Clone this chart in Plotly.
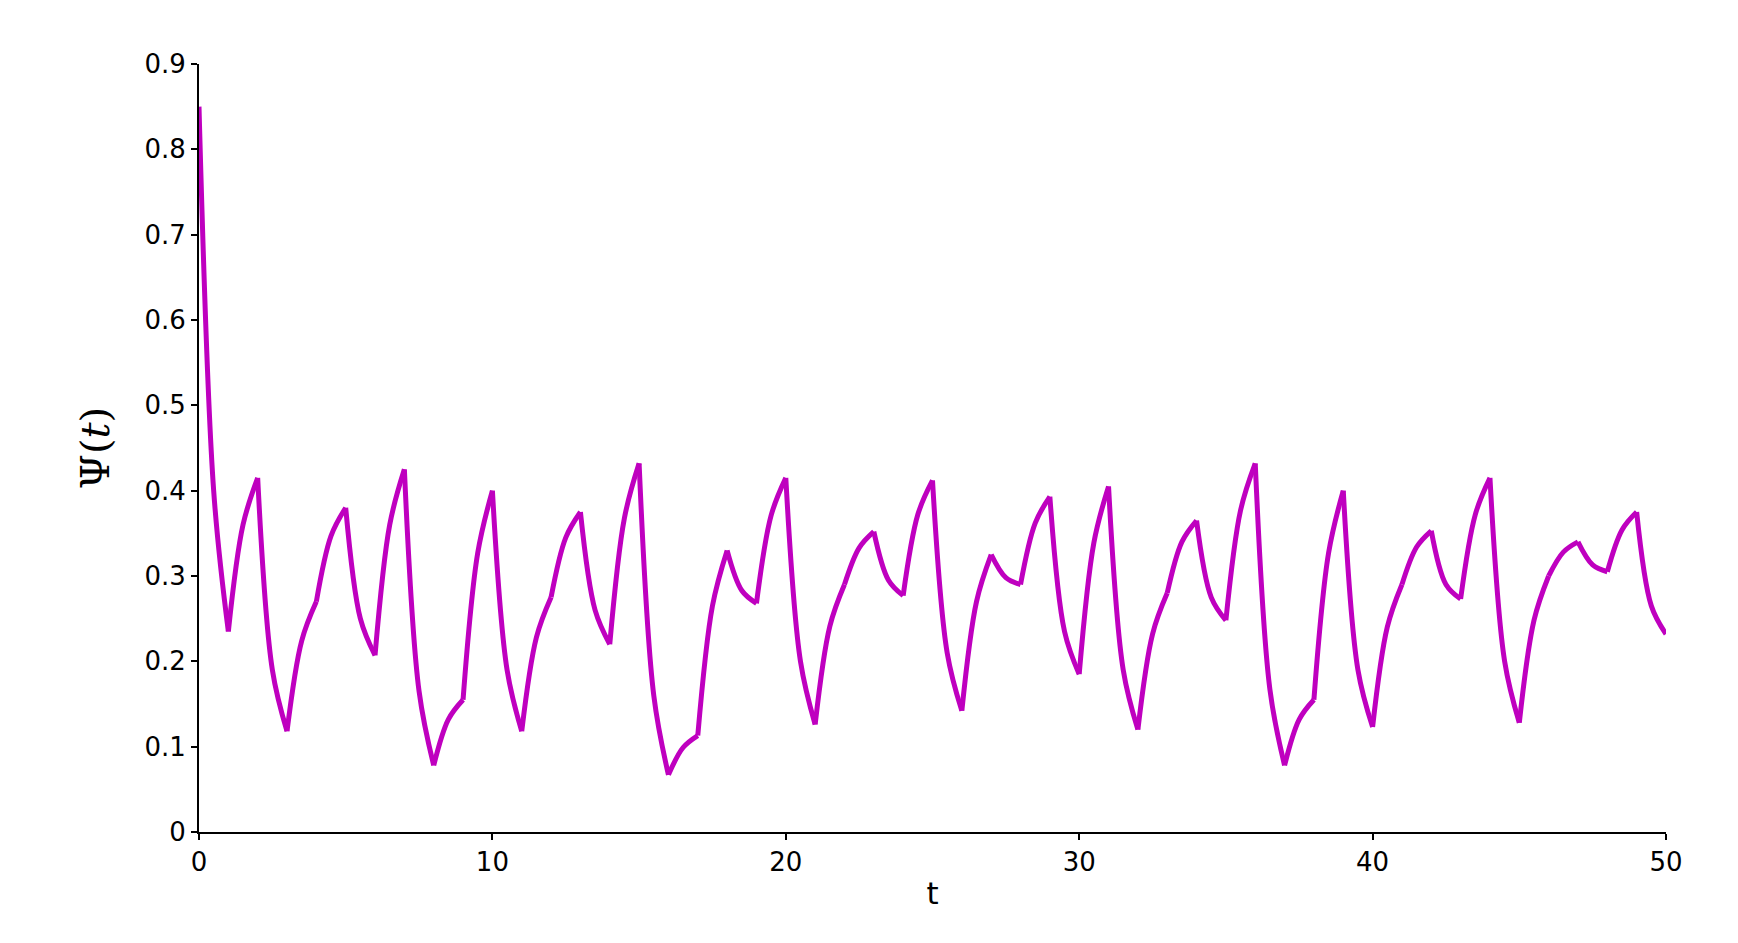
import plotly.graph_objects as go

t = [0,0.5,1,1.5,2,2.5,3,3.5,4,4.5,5,5.5,6,6.5,7,7.5,8,8.5,9,9.5,10,10.5,11,11.5,12,12.5,13,13.5,14,14.5,15,15.5,16,16.5,17,17.5,18,18.5,19,19.5,20,20.5,21,21.5,22,22.5,23,23.5,24,24.5,25,25.5,26,26.5,27,27.5,28,28.5,29,29.5,30,30.5,31,31.5,32,32.5,33,33.5,34,34.5,35,35.5,36,36.5,37,37.5,38,38.5,39,39.5,40,40.5,41,41.5,42,42.5,43,43.5,44,44.5,45,45.5,46,46.5,47,47.5,48,48.5,49,49.5,50]
psi = [0.85,0.40,0.235,0.36,0.415,0.19,0.118,0.224,0.27,0.347,0.38,0.25,0.207,0.36,0.425,0.165,0.078,0.132,0.155,0.327,
       0.40,0.19,0.118,0.228,0.275,0.345,0.375,0.26,0.22,0.368,0.432,0.16,0.067,0.099,0.113,0.265,0.33,0.283,0.268,0.371,
       0.415,0.20,0.126,0.241,0.29,0.333,0.352,0.295,0.277,0.372,0.412,0.21,0.142,0.27,0.325,0.298,0.29,0.362,0.393,0.235,
       0.185,0.339,0.405,0.19,0.12,0.232,0.28,0.34,0.365,0.275,0.248,0.377,0.432,0.167,0.078,0.132,0.155,0.327,0.40,0.19,
       0.123,0.24,0.29,0.334,0.353,0.29,0.273,0.372,0.415,0.20,0.128,0.248,0.30,0.328,0.34,0.313,0.305,0.354,0.375,0.265,0.232]

fig = go.Figure()
# one smooth segment per unit interval (kinks at integer t)
for i in range(0, len(t) - 1, 2):
    fig.add_trace(go.Scatter(x=t[i:i+3], y=psi[i:i+3], mode="lines",
                             line=dict(color="#BF00BF", width=5, shape="spline", smoothing=1.0)))
ax = dict(showgrid=False, zeroline=False, showline=True, linecolor="black", linewidth=2,
          ticks="outside", ticklen=6, tickcolor="black", tickwidth=2, mirror=False)
fig.update_layout(
    width=1738, height=943, plot_bgcolor="white", paper_bgcolor="white",
    margin=dict(l=191, r=80, t=56, b=119), showlegend=False,
    font=dict(family="DejaVu Sans, Liberation Sans", size=26, color="black"),
    xaxis=dict(range=[0, 50], dtick=10, title=dict(text="t", standoff=6), **ax),
    yaxis=dict(range=[0, 0.9], dtick=0.1,
               title=dict(text="Ψ(<i>t</i>)", font=dict(size=40, family="DejaVu Serif"), standoff=22), **ax),
)
fig.update_yaxes(tickvals=[0,0.1,0.2,0.3,0.4,0.5,0.6,0.7,0.8,0.9],
                 ticktext=["0","0.1","0.2","0.3","0.4","0.5","0.6","0.7","0.8","0.9"])
fig.write_html("out.html")
